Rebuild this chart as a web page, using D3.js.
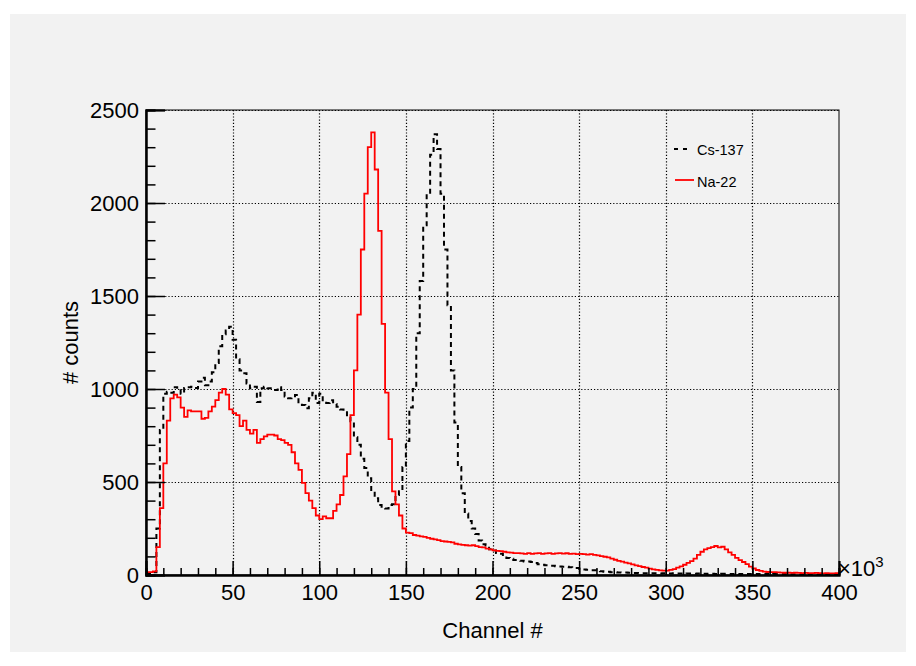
<!DOCTYPE html>
<html>
<head>
<meta charset="utf-8">
<script src="https://cdn.jsdelivr.net/npm/d3@7"></script>
<style>
  body { margin: 0; background: #fff; }
  text { font-family: "Liberation Sans", Arial, sans-serif; fill: #000; }
</style>
</head>
<body>
<svg id="spectrum"></svg>
<script>
// histogram data, 2k-channel bins from 0 to 400 (x10^3)
const binWidth = 2;

const cs137Counts = [
  8, 8, 15, 250, 780, 975, 985, 980, 1010, 1000,
  975, 1005, 1010, 1012, 1005, 1040, 1060, 1020, 1040, 1090,
  1140, 1230, 1295, 1315, 1335, 1265, 1160, 1100, 1085, 1030,
  1004, 1012, 930, 1004, 1012, 1004, 995, 995, 1010, 995,
  960, 950, 955, 968, 923, 914, 896, 950, 980, 925,
  975, 940, 925, 940, 920, 905, 890, 880, 845, 826,
  740, 700, 625, 575, 520, 450, 412, 376, 360, 358,
  376, 380, 430, 450, 580, 720, 900, 1000, 1300, 1580,
  1880, 2050, 2260, 2370, 2290, 2050, 1750, 1450, 1100, 820,
  580, 440, 330, 290, 250, 220, 185, 165, 158, 138,
  132, 118, 114, 100, 92, 88, 80, 78, 76, 72,
  72, 70, 64, 58, 55, 52, 50, 50, 47, 46,
  45, 44, 42, 38, 37, 34, 30, 28, 26, 25,
  22, 20, 18, 17, 15, 15, 14, 13, 13, 12,
  11, 11, 10, 10, 10, 9, 9, 9, 8, 9,
  8, 8, 9, 8, 8, 7, 8, 7, 7, 8,
  7, 7, 6, 7, 6, 6, 7, 6, 6, 5,
  6, 5, 5, 6, 5, 5, 5, 4, 5, 5,
  4, 5, 4, 4, 5, 4, 4, 4, 3, 4,
  4, 3, 4, 3, 3, 4, 3, 3, 3, 3
];

const na22Counts = [
  15, 15, 20, 150, 360, 600, 830, 950, 970, 955,
  900, 850, 885, 880, 880, 880, 840, 845, 880, 905,
  940, 980, 1000, 970, 890, 870, 860, 800, 830, 780,
  760, 780, 710, 730, 745, 755, 755, 750, 730, 725,
  710, 700, 660, 600, 565, 495, 440, 400, 360, 320,
  300, 315, 305, 305, 345, 380, 430, 530, 650, 860,
  1100, 1400, 1750, 2050, 2300, 2380, 2180, 1850, 1350, 980,
  730, 450, 380, 320, 250, 228, 225, 215, 212, 208,
  205, 200, 195, 192, 188, 182, 180, 178, 175, 168,
  165, 162, 160, 158, 160, 155, 150, 148, 142, 138,
  132, 130, 128, 125, 122, 120, 118, 118, 116, 114,
  118, 114, 116, 118, 114, 116, 118, 114, 116, 118,
  115, 117, 114, 115, 112, 114, 112, 110, 112, 108,
  105, 102, 98, 95, 88, 82, 76, 72, 66, 62,
  57, 52, 48, 43, 40, 34, 30, 28, 25, 23,
  24, 28, 32, 40, 46, 55, 65, 75, 88, 108,
  125, 138, 145, 150, 156, 148, 152, 138, 122, 108,
  92, 80, 70, 58, 45, 35, 27, 22, 18, 16,
  15, 15, 14, 13, 12, 12, 11, 12, 11, 10,
  11, 10, 10, 11, 10, 9, 10, 9, 9, 10
];

const seriesNames = ["Cs-137", "Na-22"];
const xMajorTicks = [0, 50, 100, 150, 200, 250, 300, 350, 400];
const yMajorTicks = [0, 500, 1000, 1500, 2000, 2500];
const xTitle = "Channel #";
const yTitle = "# counts";

const W = 916, H = 666;
const frame = { left: 146, right: 839, top: 110, bottom: 575 };

const svg = d3.select("#spectrum").attr("width", W).attr("height", H);

// canvas fill
svg.append("rect")
  .attr("x", 10).attr("y", 14)
  .attr("width", W - 20).attr("height", H - 28)
  .attr("fill", "#f2f2f2");

const x = d3.scaleLinear().domain([0, 400]).range([frame.left, frame.right]);
const y = d3.scaleLinear().domain([0, 2500]).range([frame.bottom, frame.top]);

// dotted grid
const grid = svg.append("g")
  .attr("stroke", "#000")
  .attr("stroke-width", 1.2)
  .attr("stroke-dasharray", "1.2,2");
grid.selectAll("line.gx")
  .data(xMajorTicks.slice(1, -1))
  .enter().append("line")
  .attr("x1", d => Math.round(x(d)) + 0.5).attr("x2", d => Math.round(x(d)) + 0.5)
  .attr("y1", frame.top).attr("y2", frame.bottom);
grid.selectAll("line.gy")
  .data(yMajorTicks.slice(1))
  .enter().append("line")
  .attr("y1", d => Math.round(y(d)) + 0.5).attr("y2", d => Math.round(y(d)) + 0.5)
  .attr("x1", frame.left).attr("x2", frame.right);

// histograms
const binsOf = counts => {
  const pts = counts.map((c, i) => ({ lo: i * binWidth, v: c }));
  pts.push({ lo: counts.length * binWidth, v: counts[counts.length - 1] });
  return pts;
};
const step = d3.line()
  .x(d => x(d.lo))
  .y(d => y(d.v))
  .curve(d3.curveStepAfter);

svg.append("path")
  .datum(binsOf(cs137Counts))
  .attr("fill", "none")
  .attr("stroke", "#000")
  .attr("stroke-width", 2)
  .attr("stroke-dasharray", "5,4")
  .attr("d", step);

svg.append("path")
  .datum(binsOf(na22Counts))
  .attr("fill", "none")
  .attr("stroke", "#ff0000")
  .attr("stroke-width", 1.8)
  .attr("d", step);

// frame
svg.append("rect")
  .attr("x", frame.left).attr("y", frame.top)
  .attr("width", frame.right - frame.left).attr("height", frame.bottom - frame.top)
  .attr("fill", "none").attr("stroke", "#000").attr("stroke-width", 1);

// axes, ticks pointing inward
const xMinor = svg.append("g")
  .attr("transform", `translate(0,${frame.bottom})`)
  .call(d3.axisBottom(x).tickValues(d3.range(0, 401, 10)).tickSize(-7).tickFormat(""));
const xAxis = svg.append("g")
  .attr("transform", `translate(0,${frame.bottom})`)
  .call(d3.axisBottom(x).tickValues(xMajorTicks).tickSize(-14).tickFormat(d3.format("d")));
xAxis.selectAll("text")
  .attr("y", 25).attr("dy", null)
  .style("font-size", "22px");

const yMinor = svg.append("g")
  .attr("transform", `translate(${frame.left},0)`)
  .call(d3.axisLeft(y).tickValues(d3.range(0, 2501, 100)).tickSize(-9.5).tickFormat(""));
const yAxis = svg.append("g")
  .attr("transform", `translate(${frame.left},0)`)
  .call(d3.axisLeft(y).tickValues(yMajorTicks).tickSize(-19).tickPadding(7).tickFormat(d3.format("d")));
yAxis.selectAll("text")
  .attr("dy", "0.36em")
  .style("font-size", "22px");

[xMinor, xAxis, yMinor, yAxis].forEach(g => {
  g.select(".domain").attr("stroke-width", 2);
  g.selectAll(".tick line").attr("stroke-width", 1.5);
  g.attr("font-family", null).attr("font-size", null);
});

// exponent label
const expo = svg.append("text")
  .attr("x", 838).attr("y", 576)
  .style("font-size", "22px")
  .text("\u00d710");
expo.append("tspan")
  .attr("dy", -9)
  .style("font-size", "15px")
  .text("3");

// titles
svg.append("text")
  .attr("x", (frame.left + frame.right) / 2).attr("y", 638)
  .attr("text-anchor", "middle")
  .style("font-size", "22px")
  .text(xTitle);
svg.append("text")
  .attr("transform", `translate(78,${(frame.top + frame.bottom) / 2}) rotate(-90)`)
  .attr("text-anchor", "middle")
  .style("font-size", "22px")
  .text(yTitle);

// legend
const legend = svg.append("g");
legend.append("line")
  .attr("x1", 674).attr("x2", 692).attr("y1", 149).attr("y2", 149)
  .attr("stroke", "#000").attr("stroke-width", 2).attr("stroke-dasharray", "4,5");
legend.append("text")
  .attr("x", 697).attr("y", 155)
  .style("font-size", "14.5px")
  .text(seriesNames[0]);
legend.append("line")
  .attr("x1", 675).attr("x2", 694).attr("y1", 180).attr("y2", 180)
  .attr("stroke", "#ff0000").attr("stroke-width", 1.8);
legend.append("text")
  .attr("x", 697).attr("y", 187)
  .style("font-size", "14.5px")
  .text(seriesNames[1]);
</script>
</body>
</html>
